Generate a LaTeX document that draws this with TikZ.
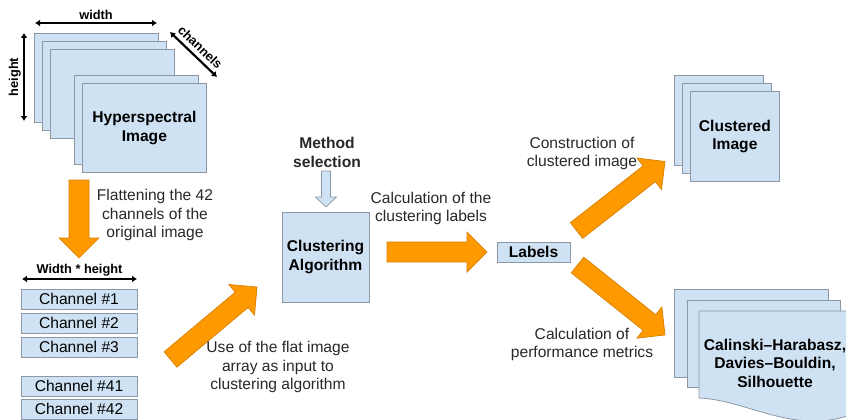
\documentclass[tikz,border=0pt]{standalone}
\usepackage{fontspec}
\setmainfont{Liberation Sans}
\usepackage{xcolor}
\usepackage{tikz}
\usetikzlibrary{arrows.meta, positioning, calc}

\definecolor{sheetfill}{RGB}{207,226,243}
\definecolor{sheetedge}{RGB}{140,152,166}
\definecolor{arrowfill}{RGB}{255,153,0}
\definecolor{arrowedge}{RGB}{214,128,0}
\definecolor{textgray}{RGB}{40,40,40}

\newcommand{\basesize}{\fontsize{15.6}{18.5}\selectfont}
\newcommand{\dimsize}{\fontsize{12.8}{15}\selectfont}

\tikzset{
  fat shaft/.store in=\fatshaft, fat head/.store in=\fathead, fat tip/.store in=\fattip,
  fat shaft=10pt, fat head=20pt, fat tip=20pt,
  fat/.style={
    fill=arrowfill, draw=arrowedge, line width=0.7pt, line join=miter,
    to path={
      ($(\tikztotarget)!\fattip!(\tikztostart)$) coordinate (fat-b)
      ($(\tikztostart)!\fatshaft!90:(\tikztotarget)$)
      -- ($(fat-b)!\fatshaft!90:(\tikztotarget)$)
      -- ($(fat-b)!\fathead!90:(\tikztotarget)$)
      -- (\tikztotarget)
      -- ($(fat-b)!\fathead!-90:(\tikztotarget)$)
      -- ($(fat-b)!\fatshaft!-90:(\tikztotarget)$)
      -- ($(\tikztostart)!\fatshaft!-90:(\tikztotarget)$)
      -- cycle
    }
  },
}

\begin{document}
\begin{tikzpicture}[
  x=1pt, y=-1pt,
  font=\basesize,
  sheet/.style={
    draw=sheetedge, fill=sheetfill, line width=0.8pt,
    minimum width=124pt, minimum height=89pt,
    anchor=north west, inner sep=0pt, align=center, font=\basesize\bfseries
  },
  chan/.style={
    draw=sheetedge, fill=sheetfill, line width=0.8pt,
    minimum width=116pt, minimum height=20pt, inner sep=0pt
  },
  note/.style={align=center, text=textgray},
  dimtext/.style={font=\dimsize\bfseries, inner sep=2pt},
  dim/.style={{Latex[length=5pt,width=7pt]}-{Latex[length=5pt,width=7pt]}, line width=2.2pt},
]
\useasboundingbox (0,0) rectangle (846,420);

%% Hyperspectral image stack
\node[sheet] (hsi1) at (34,33) {};
\node[sheet] (hsi2) at (42,41) {};
\node[sheet] (hsi3) at (50,49) {};
\node[sheet] (hsi4) at (74,75) {};
\node[sheet] (hsi5) at (82,83) {Hyperspectral\\Image};

%% Dimension arrows
\coordinate (wd-l) at (35,23);
\coordinate (wd-r) at (157,23);
\coordinate (ht-b) at (24,121);
\coordinate (ht-t) at (24,33);
\coordinate (ch-a) at (170,32);
\coordinate (ch-b) at (217,77);
\draw[dim] (wd-l) -- node[above, dimtext] {width} (wd-r);
\draw[dim] (ht-b) -- node[above, sloped, dimtext] {height} (ht-t);
\draw[dim] (ch-a) -- node[above=2pt, sloped, dimtext] {channels} (ch-b);

%% Flattening
\coordinate (flat-s) at (79,180);
\coordinate (flat-t) at (79,258);
\draw[fat] (flat-s) to (flat-t);
\node[note] (flatnote) at (155,215) {Flattening the 42\\channels of the\\original image};

%% Flat image array
\coordinate (wh-l) at (22,279);
\coordinate (wh-r) at (137,279);
\draw[dim, line width=1.6pt] (wh-l) -- node[above, dimtext] {Width * height} (wh-r);
\node[chan] (ch1)  at (79,299) {Channel \#1};
\node[chan] (ch2)  at (79,323) {Channel \#2};
\node[chan] (ch3)  at (79,347) {Channel \#3};
\node[chan] (ch41) at (79,386) {Channel \#41};
\node[chan] (ch42) at (79,409) {Channel \#42};

%% Input to clustering
\coordinate (use-s) at (170.5,359.5);
\coordinate (use-t) at (257,287);
\draw[fat] (use-s) to (use-t);
\node[note] (usenote) at (278,367) {Use of the flat image\\array as input to\\clustering algorithm};

%% Method selection and clustering
\node[note, font=\basesize\bfseries] (method) at (327,152.5) {Method\\selection};
\coordinate (sel-s) at (326,171);
\coordinate (sel-t) at (326,207);
\draw[fat, fat shaft=4.5pt, fat head=10.5pt, fat tip=10pt,
      fill=sheetfill, draw=sheetedge] (sel-s) to (sel-t);
\node[sheet, anchor=center, minimum width=87pt, minimum height=90pt]
    (cluster) at (325.5,257) {Clustering\\Algorithm};

%% Labels
\node[note] (labnote) at (431,208.5) {Calculation of the\\clustering labels};
\coordinate (lab-s) at (387,252);
\coordinate (lab-t) at (487,252);
\draw[fat] (lab-s) to (lab-t);
\node[sheet, anchor=center, minimum width=73pt, minimum height=20pt]
    (labels) at (533.5,252) {Labels};

%% Clustered image
\coordinate (img-s) at (576.5,230.5);
\coordinate (img-t) at (665,161.5);
\draw[fat] (img-s) to (img-t);
\node[note] (imgnote) at (582,153.5) {Construction of\\clustered image};
\node[sheet, minimum width=89pt, minimum height=90pt] (cimg1) at (674,75) {};
\node[sheet, minimum width=89pt, minimum height=90pt] (cimg2) at (682,83) {};
\node[sheet, minimum width=89pt, minimum height=90pt] (cimg3) at (690,91) {Clustered\\Image};

%% Performance metrics
\coordinate (met-s) at (577.5,265);
\coordinate (met-t) at (665,335);
\draw[fat] (met-s) to (met-t);
\node[note] (metnote) at (582,344.5) {Calculation of\\performance metrics};
\node[sheet, minimum width=154pt, minimum height=88pt] (met1) at (674,289) {};
\node[sheet, minimum width=153pt, minimum height=87pt] (met2) at (687,300) {};
\draw[draw=sheetedge, fill=sheetfill, line width=0.8pt]
    (699,311) -- (862,311) -- (862,410)
    .. controls (800,440) and (750,400) .. (699,398) -- cycle;
\node[align=center, font=\basesize\bfseries] (metrics) at (775,363)
    {Calinski--Harabasz,\\Davies--Bouldin,\\Silhouette};
\end{tikzpicture}
\end{document}
